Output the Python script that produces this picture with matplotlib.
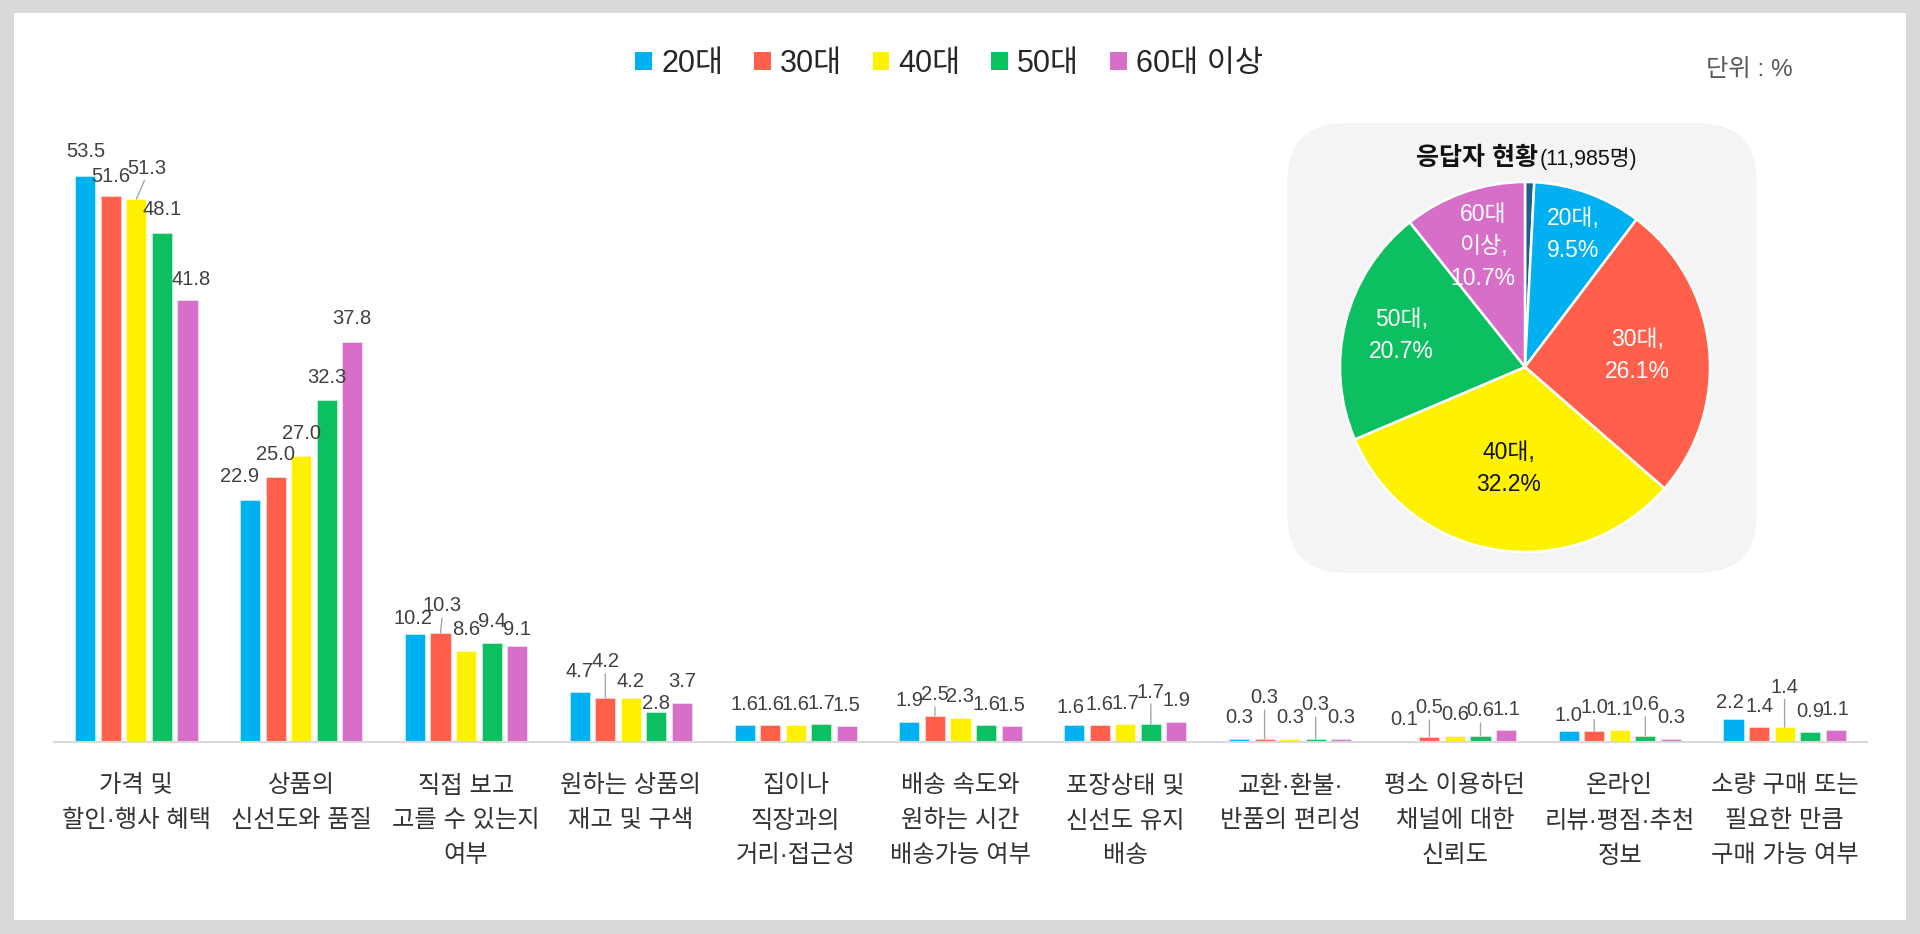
import numpy as np
import matplotlib
matplotlib.use("Agg")
import matplotlib.pyplot as plt
from matplotlib.patches import FancyBboxPatch, Rectangle, Patch
from matplotlib.transforms import IdentityTransform

plt.rcParams['font.family'] = ['Liberation Sans', 'Noto Sans CJK KR', 'DejaVu Sans']

categories = ["가격 및\n할인·행사 혜택", "상품의\n신선도와 품질", "직접 보고\n고를 수 있는지\n여부",
              "원하는 상품의\n재고 및 구색", "집이나\n직장과의\n거리·접근성",
              "배송 속도와\n원하는 시간\n배송가능 여부", "포장상태 및\n신선도 유지\n배송",
              "교환·환불·\n반품의 편리성", "평소 이용하던\n채널에 대한\n신뢰도",
              "온라인\n리뷰·평점·추천\n정보", "소량 구매 또는\n필요한 만큼\n구매 가능 여부"]
series_names = ["20대", "30대", "40대", "50대", "60대 이상"]
v20 = [53.5, 22.9, 10.2, 4.7, 1.6, 1.9, 1.6, 0.3, 0.1, 1.0, 2.2]
v30 = [51.6, 25.0, 10.3, 4.2, 1.6, 2.5, 1.6, 0.3, 0.5, 1.0, 1.4]
v40 = [51.3, 27.0, 8.6, 4.2, 1.6, 2.3, 1.7, 0.3, 0.6, 1.1, 1.4]
v50 = [48.1, 32.3, 9.4, 2.8, 1.7, 1.6, 1.7, 0.3, 0.6, 0.6, 0.9]
v60 = [41.8, 37.8, 9.1, 3.7, 1.5, 1.5, 1.9, 0.3, 1.1, 0.3, 1.1]
values = [v20, v30, v40, v50, v60]

pie_labels = ["", "20대,\n9.5%", "30대,\n26.1%", "40대,\n32.2%", "50대,\n20.7%", "60대\n이상,\n10.7%"]
pie_shares = [0.8, 9.5, 26.1, 32.2, 20.7, 10.7]

colors = ["#00b0f0", "#ff5f4b", "#fff200", "#0cbf60", "#d76fc9"]
pie_colors = ["#1f5f8a"] + colors

# label nudges in pixels: (series, group) -> (dx, dy above bar top, leader)
nudge = {(0, 0): (0, 24, False), (1, 0): (0, 19, False), (2, 0): (10, 31, True),
         (3, 0): (0, 23, False), (4, 0): (4, 20, False),
         (0, 1): (-11, 23, False), (1, 1): (0, 23, False), (2, 1): (0, 23, False),
         (3, 1): (0, 23, False), (4, 1): (0, 23, False),
         (0, 2): (-2, 16, False), (1, 2): (2, 27, True), (4, 2): (0, 16, False),
         (1, 3): (0, 36, True), (2, 3): (0, 16, False), (3, 3): (0, 9, False),
         (1, 5): (0, 21, True), (0, 6): (-4, 18, False), (3, 6): (0, 32, True),
         (1, 7): (0, 41, True), (3, 7): (0, 34, True),
         (1, 8): (0, 29, True), (3, 8): (0, 25, True),
         (0, 9): (0, 16, False), (1, 9): (0, 24, True), (3, 9): (0, 31, True),
         (0, 10): (-4, 16, False), (2, 10): (0, 40, True)}

fig = plt.figure(figsize=(19.2, 9.34), dpi=100, facecolor="#d9d9d9")
fig.patches.append(Rectangle((14, 14), 1892, 907, transform=IdentityTransform(),
                             facecolor="white", edgecolor="none", zorder=-1))

ax = fig.add_axes([54 / 1920, 1 - 742 / 934, 1813 / 1920, 635 / 934])
ax.set_facecolor("none")
x = np.arange(len(categories))
step, width = 0.155, 0.122
px = 0.72  # pixels -> points at dpi 100
for k, (name, vals, c) in enumerate(zip(series_names, values, colors)):
    xs = x + (k - 2) * step
    ax.bar(xs, vals, width, color=c, edgecolor=(1, 1, 1, 0.5), linewidth=0.6, label=name)
    for g, (xi, v) in enumerate(zip(xs, vals)):
        dx, dy, lead = nudge.get((k, g), (0, 21, False))
        ap = None
        if lead:
            ap = dict(arrowstyle="-", color="#a6a6a6", lw=1.0, relpos=(0.5, 0.1),
                      shrinkA=0, shrinkB=0)
        ax.annotate(f"{v:.1f}", (xi, v), xytext=(dx * px, dy * px), textcoords="offset points",
                    ha="center", va="center", fontsize=14.5, color="#404040",
                    arrowprops=ap)

ax.set_xlim(-0.5, len(categories) - 0.5)
ax.set_ylim(0, 60)
ax.set_xticks(x, categories, fontsize=17.5, color="#333333", linespacing=1.74)
ax.tick_params(axis="x", length=0, pad=24)
ax.set_yticks([])
for s in ["top", "left", "right"]:
    ax.spines[s].set_visible(False)
ax.spines["bottom"].set_color("#d9d9d9")
ax.spines["bottom"].set_linewidth(1.5)

handles = [Patch(facecolor=c, edgecolor="none") for c in colors]
fig.legend(handles, series_names, loc="center", bbox_to_anchor=(949 / 1920, 1 - 64 / 934),
           ncol=5, frameon=False, fontsize=22, handlelength=0.55, handleheight=0.55,
           handletextpad=0.3, columnspacing=1.0, labelcolor="#262626")

fig.text(1793 / 1920, 1 - 70 / 934, "단위 : %", ha="right", va="center",
         fontsize=17.5, color="#595959")

# pie panel
fig.patches.append(FancyBboxPatch((1287, 934 - 573), 470, 450, transform=IdentityTransform(),
                                  boxstyle="round,pad=0,rounding_size=60",
                                  facecolor="#f4f4f4", edgecolor="none", zorder=1))
fig.text(1538 / 1920, 1 - 165 / 934, "응답자 현황", ha="right", va="baseline",
         fontsize=18, fontweight="bold", color="#111111", zorder=3)
fig.text(1540 / 1920, 1 - 165 / 934, "(11,985명)", ha="left", va="baseline",
         fontsize=15.5, color="#111111", zorder=3)

pax = fig.add_axes([1321.5 / 1920, 1 - 570.5 / 934, 407 / 1920, 407 / 934])
pax.set_zorder(2)
wedges, _ = pax.pie(pie_shares, colors=pie_colors, startangle=90, counterclock=False,
                    wedgeprops=dict(edgecolor="white", linewidth=1.8))
pax.set_xlim(-1.1, 1.1)
pax.set_ylim(-1.1, 1.1)
pax.set_aspect("equal")
pax.axis("off")
dists = [0, 0.76, 0.61, 0.555, 0.69, 0.69]
for w, lab, d, c in zip(wedges, pie_labels, dists, pie_colors):
    if not lab:
        continue
    ang = np.deg2rad((w.theta1 + w.theta2) / 2)
    tc = "#111111" if c == "#fff200" else "white"
    pax.text(d * np.cos(ang), d * np.sin(ang), lab, ha="center", va="center",
             fontsize=16.5, color=tc, linespacing=1.5)

fig.savefig("out.png", dpi=100)
